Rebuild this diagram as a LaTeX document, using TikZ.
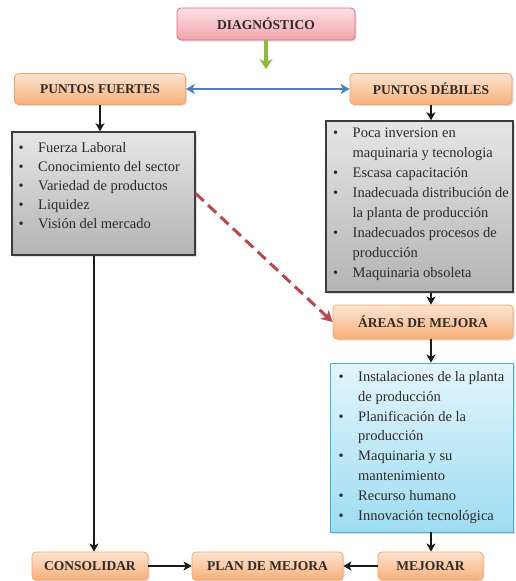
\documentclass[tikz,border=0pt]{standalone}
\usepackage{fontspec}
\setmainfont{Liberation Serif}
\usetikzlibrary{arrows.meta,shadows}
\definecolor{txt}{HTML}{2E2A28}
\definecolor{orTop}{HTML}{FDE4D0}
\definecolor{orBot}{HTML}{F7B07A}
\definecolor{orBorder}{HTML}{F2A46C}
\definecolor{pkTop}{HTML}{FCE0E3}
\definecolor{pkBot}{HTML}{F3A3AC}
\definecolor{pkBorder}{HTML}{D66E7A}
\definecolor{gyTop}{HTML}{E6E6E6}
\definecolor{gyBot}{HTML}{B4B4B4}
\definecolor{gyBorder}{HTML}{3C3C3C}
\definecolor{blTop}{HTML}{E2F5FC}
\definecolor{blBot}{HTML}{9EDCF2}
\definecolor{blBorder}{HTML}{3FB2D6}
\definecolor{grArrow}{HTML}{8DBB3E}
\definecolor{buArrow}{HTML}{4C7EC0}
\definecolor{rdArrow}{HTML}{B9474F}
\newcommand{\bitem}{\makebox[19.5pt][l]{\textbullet}}
\newcommand{\bcont}{\hspace*{19.5pt}}
\begin{document}
\begin{tikzpicture}[x=1pt,y=1pt,
  shd/.style={drop shadow={opacity=0.25,shadow xshift=1.5pt,shadow yshift=-1.5pt}},
  hdr/.style={shd,rounded corners=4pt,draw=orBorder,line width=0.8pt,top color=orTop,bottom color=orBot,
    font=\fontsize{13.5}{16}\selectfont\bfseries,text=txt,inner sep=0pt},
  diagbox/.style={hdr,draw=pkBorder,top color=pkTop,bottom color=pkBot},
  graybox/.style={shd,draw=gyBorder,line width=1.4pt,top color=gyTop,bottom color=gyBot,inner sep=0pt},
  bluebox/.style={shd,draw=blBorder,line width=0.8pt,top color=blTop,bottom color=blBot,inner sep=0pt},
  lsttext/.style={anchor=base west,inner sep=0pt,text=txt,font=\fontsize{14.5}{19.5}\selectfont},
  blk/.style={draw=black!90,line width=2pt,-{Stealth[length=8pt,width=9pt,inset=2pt]}},
]
\useasboundingbox (0,0) rectangle (515,-581);

% header boxes
\node[diagbox,minimum width=178pt,minimum height=32pt] (diag) at (266,-24) {DIAGNÓSTICO};
\node[hdr,minimum width=171pt,minimum height=31pt] (pf) at (100,-89) {PUNTOS FUERTES};
\node[hdr,minimum width=162pt,minimum height=31pt] (pd) at (431,-89) {PUNTOS DÉBILES};
\node[hdr,minimum width=180pt,minimum height=34pt] (areas) at (423,-322) {ÁREAS DE MEJORA};
\node[hdr,minimum width=116pt,minimum height=28pt] (cons) at (90,-566) {CONSOLIDAR};
\node[hdr,minimum width=151pt,minimum height=28pt] (plan) at (267.5,-566) {PLAN DE MEJORA};
\node[hdr,minimum width=105pt,minimum height=28pt] (mej) at (430.5,-566) {MEJORAR};

% list boxes
\node[graybox,minimum width=183pt,minimum height=123pt] (pfl) at (103.5,-193.5) {};
\node[graybox,minimum width=187pt,minimum height=171pt] (pdl) at (419.5,-206.5) {};
\node[bluebox,minimum width=183pt,minimum height=169pt] (aml) at (421.5,-447.5) {};

\node[lsttext] (pflt) at (18.5,-152.5) {\parbox[t]{180pt}{\fontsize{14.5}{19}\selectfont\raggedright
\bitem Fuerza Laboral\\
\bitem Conocimiento del sector\\
\bitem Variedad de productos\\
\bitem Liquidez\\
\bitem Visión del mercado}};

\node[lsttext] (pdlt) at (333,-137.5) {\parbox[t]{190pt}{\fontsize{14.5}{20}\selectfont\raggedright
\bitem Poca inversion en\\
\bcont maquinaria y tecnologia\\
\bitem Escasa capacitación\\
\bitem Inadecuada distribución de\\
\bcont la planta de producción\\
\bitem Inadecuados procesos de\\
\bcont producción\\
\bitem Maquinaria obsoleta}};

\node[lsttext] (amlt) at (338.5,-381.5) {\parbox[t]{190pt}{\fontsize{14.5}{19.8}\selectfont\raggedright
\bitem Instalaciones de la planta\\
\bcont de producción\\
\bitem Planificación de la\\
\bcont producción\\
\bitem Maquinaria y su\\
\bcont mantenimiento\\
\bitem Recurso humano\\
\bitem Innovación tecnológica}};

% connectors
\draw[draw=buArrow,line width=2pt,{Stealth[length=9pt,width=10pt,inset=2.5pt]}-{Stealth[length=9pt,width=10pt,inset=2.5pt]}] (pf.east) -- (pd.west);
\draw[draw=grArrow,line width=4pt,-{Stealth[length=10pt,width=13pt,inset=3pt]}] (diag.south) -- ([yshift=4pt]diag.south |- pd.north);
\draw[blk] (pf.south) -- (pf.south |- pfl.north);
\draw[blk] (pd.south) -- (pd.south |- pdl.north);
\draw[blk] (pd.south |- pdl.south) -- (pd.south |- areas.north);
\draw[blk] (pd.south |- areas.south) -- (pd.south |- aml.north);
\draw[blk] (pd.south |- aml.south) -- (pd.south |- mej.north);
\draw[blk] ([xshift=-9.5pt]pfl.south) -- ([xshift=4pt]cons.north);
\draw[blk] (cons.east) -- (plan.west);
\draw[blk] (mej.west) -- (plan.east);
\draw[draw=rdArrow,line width=3pt,dash pattern=on 11pt off 6pt,-{Stealth[length=11pt,width=12pt,inset=3pt]}] (pfl.east) -- (areas.west);
\end{tikzpicture}
\end{document}
